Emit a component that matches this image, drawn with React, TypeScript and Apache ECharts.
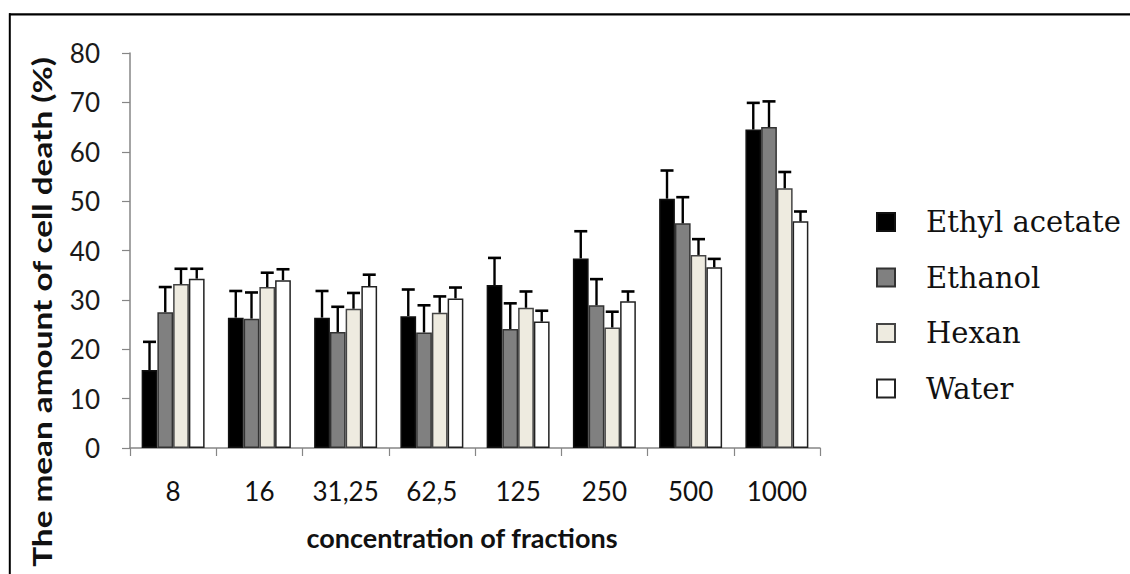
import React, { useEffect, useRef } from "react";
import * as echarts from "echarts";

const categories = ["8", "16", "31,25", "62,5", "125", "250", "500", "1000"];
const seriesNames = ["Ethyl acetate", "Ethanol", "Hexan", "Water"];

const ethylAcetate = [15.8, 26.4, 26.4, 26.7, 33.0, 38.4, 50.5, 64.5];
const ethylAcetateErr = [5.7, 5.4, 5.4, 5.4, 5.5, 5.5, 5.7, 5.4];
const ethanol = [27.5, 26.2, 23.5, 23.4, 24.1, 28.9, 45.5, 65.0];
const ethanolErr = [5.1, 5.3, 5.1, 5.5, 5.2, 5.3, 5.3, 5.2];
const hexan = [33.2, 32.6, 28.2, 27.4, 28.4, 24.4, 39.1, 52.6];
const hexanErr = [3.1, 2.9, 3.2, 3.3, 3.3, 3.2, 3.2, 3.3];
const water = [34.3, 34.0, 32.8, 30.3, 25.6, 29.7, 36.6, 45.9];
const waterErr = [2.0, 2.2, 2.3, 2.2, 2.2, 2.0, 1.7, 2.0];

const yTicks = { min: 0, max: 80, interval: 10 };
const xTitle = "concentration of fractions";
const yTitle = "The mean amount of cell death (%)";

const seriesValues = [ethylAcetate, ethanol, hexan, water];
const seriesErrors = [ethylAcetateErr, ethanolErr, hexanErr, waterErr];
const fills = ["#000000", "#808080", "#EEEBE0", "#FFFFFF"];
const borders = ["#111111", "#333333", "#444444", "#222222"];

const CATEGORY_GAP = 0.27;

export default function App() {
  const ref = useRef<HTMLDivElement>(null);

  useEffect(() => {
    if (!ref.current) return;
    const chart = echarts.init(ref.current, null, { renderer: "svg" });

    const barSeries = seriesNames.map((name, k) => ({
      name,
      type: "bar",
      data: seriesValues[k],
      barGap: "0%",
      barCategoryGap: CATEGORY_GAP * 100 + "%",
      itemStyle: { color: fills[k], borderColor: borders[k], borderWidth: 1.5 },
      z: 2,
    }));

    const errSeries = seriesNames.map((name, k) => ({
      name: name + " error",
      type: "custom",
      data: seriesValues[k].map((v, i) => [i, v, v + seriesErrors[k][i]]),
      encode: { x: 0, y: 2 },
      z: 3,
      silent: true,
      renderItem: (params: any, api: any) => {
        const idx = api.value(0);
        const lo = api.coord([idx, api.value(1)]);
        const hi = api.coord([idx, api.value(2)]);
        const band = api.size([1, 0])[0];
        const bw = (band * (1 - CATEGORY_GAP)) / 4;
        const x = lo[0] + (k - 1.5) * bw;
        const cap = 6.5;
        return {
          type: "group",
          children: [
            {
              type: "line",
              shape: { x1: x, y1: lo[1], x2: x, y2: hi[1] },
              style: { stroke: "#000", lineWidth: 2.4 },
            },
            {
              type: "line",
              shape: { x1: x - cap, y1: hi[1], x2: x + cap, y2: hi[1] },
              style: { stroke: "#000", lineWidth: 2.6 },
            },
          ],
        };
      },
    }));

    chart.setOption({
      animation: false,
      backgroundColor: "#ffffff",
      grid: { left: 130, top: 53, width: 690, height: 395, containLabel: false },
      legend: {
        data: seriesNames,
        orient: "vertical",
        left: 871,
        top: 200,
        icon: "rect",
        itemWidth: 18,
        itemHeight: 18,
        itemGap: 21.5,
        textStyle: {
          fontFamily: "DejaVu Serif",
          fontSize: 29,
          color: "#111",
          lineHeight: 34,
          padding: [0, 0, 0, 26],
        },
      },
      xAxis: {
        type: "category",
        data: categories,
        axisLine: { show: true, lineStyle: { color: "#868686", width: 1.5 } },
        axisTick: { show: true, length: 8, lineStyle: { color: "#868686", width: 1.2 } },
        axisLabel: { fontFamily: "Lato", fontSize: 26, color: "#111", margin: 30 },
        splitLine: { show: false },
        name: xTitle,
        nameLocation: "middle",
        nameGap: 76,
        nameTextStyle: {
          fontFamily: "Lato",
          fontSize: 27,
          fontWeight: "bold",
          color: "#111",
          padding: [0, 26, 0, 0],
        },
      },
      yAxis: {
        type: "value",
        min: yTicks.min,
        max: yTicks.max,
        interval: yTicks.interval,
        axisLine: { show: true, lineStyle: { color: "#868686", width: 1.5 } },
        axisTick: { show: true, length: 8, lineStyle: { color: "#868686", width: 1.2 } },
        axisLabel: { fontFamily: "Lato", fontSize: 26, color: "#1a1a1a", margin: 30 },
        splitLine: { show: false },
      },
      graphic: [
        {
          type: "line",
          shape: { x1: 9, y1: 14.3, x2: 1130, y2: 14.3 },
          style: { stroke: "#000", lineWidth: 2.2 },
        },
        {
          type: "line",
          shape: { x1: 9.8, y1: 13.3, x2: 9.8, y2: 574 },
          style: { stroke: "#000", lineWidth: 2 },
        },
        {
          type: "text",
          x: 42,
          y: 312,
          rotation: Math.PI / 2,
          scaleX: 1.28,
          style: {
            text: yTitle,
            fontFamily: "Lato",
            fontSize: 26,
            fontWeight: "bold",
            fill: "#111",
            align: "center",
            verticalAlign: "middle",
          },
        },
      ],
      series: [...barSeries, ...errSeries],
    });

    return () => chart.dispose();
  }, []);

  return (
    <div
      ref={ref}
      style={{ position: "fixed", left: 0, top: 0, width: 1130, height: 574, background: "#fff" }}
    />
  );
}
